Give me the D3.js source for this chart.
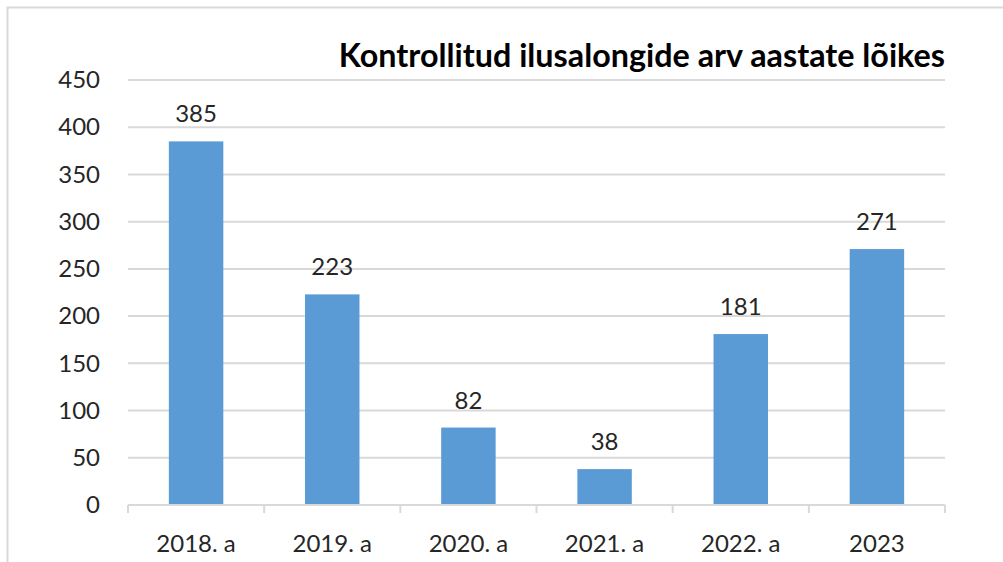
<!DOCTYPE html>
<html>
<head>
<meta charset="utf-8">
<script src="https://cdn.jsdelivr.net/npm/d3@7"></script>
<style>
  html, body { margin: 0; padding: 0; background: #fff; }
  svg text { font-family: Lato, "Open Sans", sans-serif; }
</style>
</head>
<body>
<div id="chart"></div>
<script>
const categories = ['2018. a', '2019. a', '2020. a', '2021. a', '2022. a', '2023'];
const values = [385, 223, 82, 38, 181, 271];
const yTicks = [0, 50, 100, 150, 200, 250, 300, 350, 400, 450];
const title = 'Kontrollitud ilusalongide arv aastate lõikes';

const W = 1003, H = 562;
const margin = { top: 80, right: 58, bottom: 57, left: 128 };
const width = W - margin.left - margin.right;
const height = H - margin.top - margin.bottom;

const svg = d3.select('#chart').append('svg')
  .attr('width', W)
  .attr('height', H);

// outer frame (only top/left visible)
svg.append('rect')
  .attr('x', 7.5).attr('y', 7.5)
  .attr('width', W + 20).attr('height', H + 20)
  .attr('fill', 'none')
  .attr('stroke', '#d9d9d9')
  .attr('stroke-width', 2);

const group = svg.append('g')
  .attr('transform', 'translate(' + margin.left + ',' + margin.top + ')');

const xScale = d3.scaleBand()
  .domain(categories)
  .range([0, width])
  .paddingInner(0.6)
  .paddingOuter(0.3);

const yScale = d3.scaleLinear().domain([0, 450]).range([height, 0]);

// gridlines
group.selectAll('.grid')
  .data(yTicks.filter(d => d > 0))
  .enter()
  .append('line')
  .attr('class', 'grid')
  .attr('x1', 0).attr('x2', width)
  .attr('y1', d => yScale(d)).attr('y2', d => yScale(d))
  .attr('stroke', '#d9d9d9')
  .attr('stroke-width', 2);

// y axis labels
const yAxis = d3.axisLeft(yScale).tickValues(yTicks).tickSize(0).tickPadding(28);
const yAxisGroup = group.append('g').call(yAxis);
yAxisGroup.select('.domain').remove();
yAxisGroup.selectAll('text')
  .attr('fill', '#262626')
  .style('font-size', '24px');

// bars
group.selectAll('.bar')
  .data(values)
  .enter()
  .append('rect')
  .attr('class', 'bar')
  .attr('x', (d, i) => xScale(categories[i]))
  .attr('width', xScale.bandwidth())
  .attr('y', d => yScale(d))
  .attr('height', d => height - yScale(d))
  .attr('fill', '#5b9bd5');

// data labels
group.selectAll('.label')
  .data(values)
  .enter()
  .append('text')
  .attr('class', 'label')
  .attr('x', (d, i) => xScale(categories[i]) + xScale.bandwidth() / 2)
  .attr('y', d => yScale(d) - 19)
  .attr('text-anchor', 'middle')
  .attr('fill', '#262626')
  .style('font-size', '24px')
  .text(d => d);

// x axis baseline with ticks at category boundaries
group.append('line')
  .attr('x1', 0).attr('x2', width)
  .attr('y1', height).attr('y2', height)
  .attr('stroke', '#d9d9d9')
  .attr('stroke-width', 2);

const step = xScale.step();
const boundaries = d3.range(categories.length + 1).map(i => xScale(categories[0]) - xScale.paddingOuter() * step + i * step);
group.selectAll('.xtick')
  .data(boundaries)
  .enter()
  .append('line')
  .attr('x1', d => d).attr('x2', d => d)
  .attr('y1', height).attr('y2', height + 8)
  .attr('stroke', '#d9d9d9')
  .attr('stroke-width', 2);

group.selectAll('.xlabel')
  .data(categories)
  .enter()
  .append('text')
  .attr('x', d => xScale(d) + xScale.bandwidth() / 2)
  .attr('y', height + 47)
  .attr('text-anchor', 'middle')
  .attr('fill', '#262626')
  .style('font-size', '24px')
  .text(d => d);

// title, right aligned to the plot, sized to the reference width
const titleText = svg.append('text')
  .attr('x', margin.left + width)
  .attr('y', 67)
  .attr('text-anchor', 'end')
  .attr('fill', '#000')
  .style('font-weight', 'bold')
  .style('font-size', '26px')
  .text(title);
const tw = titleText.node().getComputedTextLength();
titleText.style('font-size', (26 * 607 / tw).toFixed(1) + 'px');
</script>
</body>
</html>
